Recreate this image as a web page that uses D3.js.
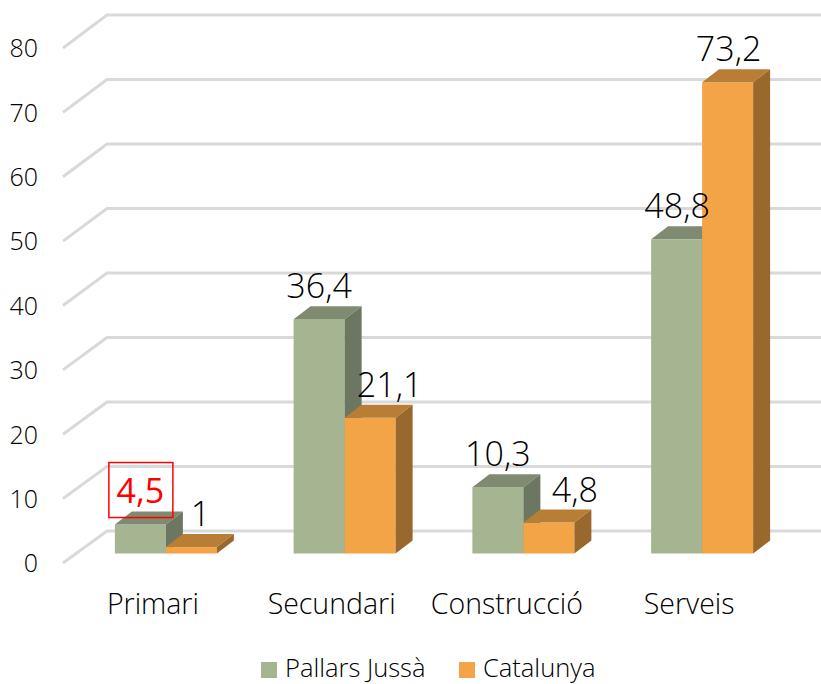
<!DOCTYPE html>
<html><head><meta charset="utf-8">
<script src="https://cdn.jsdelivr.net/npm/d3@7"></script>
<style>html,body{margin:0;padding:0;background:#fff}svg{display:block}text{font-family:"Open Sans","Noto Sans",sans-serif;font-weight:300;fill:#000}</style>
</head><body><svg id="c" width="821" height="684"></svg>
<script>
const categories = ["Primari","Secundari","Construcció","Serveis"];
const seriesNames = ["Pallars Jussà","Catalunya"];
const pallarsJussa = [4.5,36.4,10.3,48.8];
const catalunya = [1,21.1,4.8,73.2];
const yTicks = [0,10,20,30,40,50,60,70,80];

const svg = d3.select("#c");
const fmt = v => String(v).replace(".",",");
const x = d3.scaleBand().domain(categories).range([76.5,791.5]);
const inner = d3.scaleBand().domain(seriesNames).range([x.bandwidth()/2-51, x.bandwidth()/2+51]);
const yBar = d3.scaleLinear().domain([0,80]).range([553.5,38.5]);
const yFront = d3.scaleLinear().domain([0,80]).range([563,48]);
const yBack = d3.scaleLinear().domain([0,80]).range([531,15]);
const fills = {
  [seriesNames[0]]:{front:"#A5B592",top:"#7F8A70",side:"#6C7660"},
  [seriesNames[1]]:{front:"#F3A447",top:"#B97E36",side:"#99682C"}
};
const depthX = 17, depthY = 13;

// grid
const grid = svg.append("g").attr("fill","none").attr("stroke","#D9D9D9").attr("stroke-width",3);
grid.selectAll("path").data(yTicks).join("path")
  .attr("d", t => d3.line()([[63,yFront(t)],[107,yBack(t)],[821,yBack(t)]]));

// y axis
const yAxis = svg.append("g").attr("transform","translate(38,0)")
  .call(d3.axisLeft(yFront).tickValues(yTicks).tickSize(0).tickPadding(0));
yAxis.select(".domain").remove();
yAxis.selectAll("text").style("font-size","25px").attr("dy","0.35em");

// x axis
const xAxis = svg.append("g").attr("transform","translate(-13,604)")
  .call(d3.axisBottom(x).tickSize(0).tickPadding(0));
xAxis.select(".domain").remove();
xAxis.selectAll("text").style("font-size","28.5px").attr("dy","0.35em").attr("y",0)
  .attr("x",d=>d==="Construcció"?-3.5:0);

// bars
const rows = categories.flatMap((c,i)=>[
  {c,s:seriesNames[0],v:pallarsJussa[i]},
  {c,s:seriesNames[1],v:catalunya[i]}
]);
const bars = svg.append("g").selectAll("g").data(rows).join("g");
const L = d=>x(d.c)+inner(d.s), R = d=>L(d)+inner.bandwidth(), T = d=>yBar(d.v), B = yBar(0);
bars.append("rect").attr("x",L).attr("y",T).attr("width",inner.bandwidth())
  .attr("height",d=>B-T(d)).attr("fill",d=>fills[d.s].front);
bars.append("path").attr("fill",d=>fills[d.s].top)
  .attr("d",d=>d3.line()([[L(d),T(d)],[L(d)+depthX,T(d)-depthY],[R(d)+depthX,T(d)-depthY],[R(d),T(d)]])+"Z");
bars.append("path").attr("fill",d=>fills[d.s].side)
  .attr("d",d=>d3.line()([[R(d),T(d)],[R(d)+depthX,T(d)-depthY],[R(d)+depthX,B-depthY],[R(d),B]])+"Z");

// data labels
const nudge = v => v===21.1?19.5 : v===4.8?26 : v===1?9 : v===73.2?1 : v===48.8?0.5 : 0;
const labels = svg.append("g").selectAll("text").data(rows).join("text")
  .attr("x",d=>L(d)+inner.bandwidth()/2+nudge(d.v))
  .attr("y",d=>T(d)-33).attr("dy","0.35em").attr("text-anchor","middle")
  .style("font-size","34px").text(d=>fmt(d.v))
  .style("fill",d=>d.v===4.5?"#FF0000":null)
  .style("font-weight",d=>d.v===4.5?400:null);
// highlighted value box
const hi = rows.find(d=>d.v===4.5);
svg.append("rect").attr("x",L(hi)+inner.bandwidth()/2-31.5).attr("y",T(hi)-62)
  .attr("width",64).attr("height",55).attr("fill","none").attr("stroke","#FF0000").attr("stroke-width",1.5);

// legend
const lx = d3.scaleOrdinal().domain(seriesNames).range([261,459]);
const leg = svg.append("g").selectAll("g").data(seriesNames).join("g")
  .attr("transform",d=>`translate(${lx(d)},662)`);
leg.append("rect").attr("width",16).attr("height",16).attr("fill",d=>fills[d].front);
leg.append("text").attr("x",24).attr("y",14.5).style("font-size","25.5px").text(d=>d);
</script></body></html>
